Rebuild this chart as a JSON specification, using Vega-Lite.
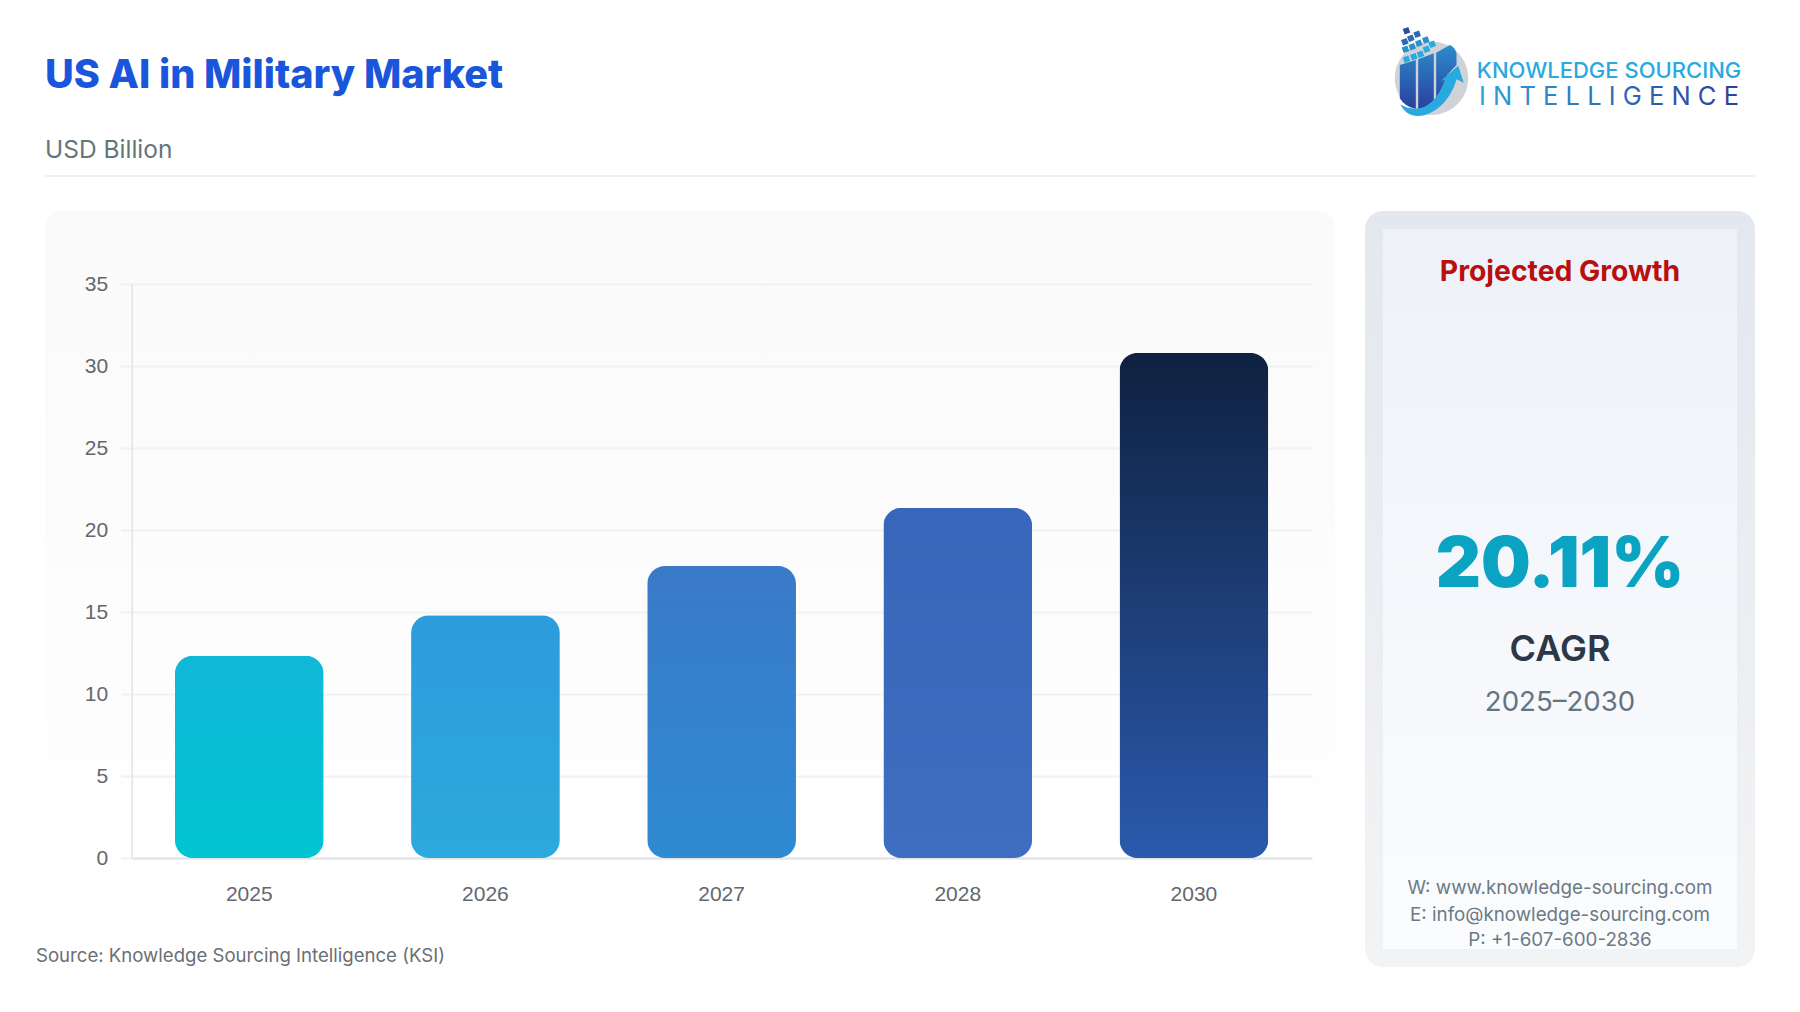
{
  "$schema": "https://vega.github.io/schema/vega-lite/v6.json",
  "background": "white",
  "padding": {"left": 36, "top": 6, "right": 0, "bottom": 0},
  "spacing": 12,
  "config": {"view": {"stroke": null}, "font": "Inter"},
  "vconcat": [
    {
      "bounds": "flush",
      "spacing": 10,
      "hconcat": [
        {
          "width": 1340,
          "height": 10,
          "data": {"values": [{}]},
          "mark": {"type": "rect", "opacity": 0},
          "title": {
            "text": "US AI in Military Market",
            "subtitle": "USD Billion",
            "orient": "bottom",
            "anchor": "start",
            "frame": "group",
            "offset": 41,
            "font": "Inter",
            "fontSize": 39.6,
            "fontWeight": 800,
            "color": "#1a56db",
            "subtitleFont": "Inter",
            "subtitleFontSize": 24.5,
            "subtitleFontWeight": 400,
            "subtitleColor": "#64757b",
            "subtitlePadding": 42
          }
        },
        {
          "width": 73,
          "height": 132,
          "data": {"values": [{}]},
          "layer": [
            {"mark": {"type": "point", "filled": true, "opacity": 1, "size": 4, "fill": "#cfd3d7", "shape": "M-36.7 6.3 A36.7 36.7 0 1 0 36.7 6.3 A36.7 36.7 0 1 0 -36.7 6.3Z"}},
            {"mark": {"type": "point", "filled": true, "opacity": 1, "size": 4, "fill": {"gradient": "linear", "x1": 0, "y1": 0, "x2": 0, "y2": 1, "stops": [{"offset": 0, "color": "#2b8ccd"}, {"offset": 1, "color": "#2a3f9d"}]}, "shape": "M-31.7 -7 L-15.7 -12 L-15.7 36.7 Q-26.7 34.7 -31.7 26.3Z M-13.3 -12.7 L2.3 -18.7 L2.3 34 Q-5 38 -13.3 37.3Z M4.7 -19.3 L18.3 -27 Q23.3 -25.3 25 -18.7 L25 -7 L15.7 3 L11.7 16.3 L4.7 31.3Z"}},
            {"mark": {"type": "point", "filled": true, "opacity": 1, "size": 4, "fill": "#29a9e0", "shape": "M-31 32.3 C-20 39.7 1.7 41.3 13.3 8 L9.3 8.7 L26.7 -6.3 L32.3 10.7 L25 7.3 C18.3 31.3 -1.7 48 -20 43 C-25 41.3 -29 37.3 -31 32.3Z"}},
            {"mark": {"type": "point", "filled": true, "opacity": 1, "size": 4, "fill": "#2a4f9f", "shape": "M-28.8 -43.1 L-23.2 -45.1 L-21.2 -39.5 L-26.8 -37.5Z"}},
            {"mark": {"type": "point", "filled": true, "opacity": 1, "size": 4, "fill": "#2d6ab5", "shape": "M-30.5 -32.1 L-24.9 -34.1 L-22.9 -28.5 L-28.5 -26.5Z M-24.5 -35.5 L-18.9 -37.5 L-16.9 -31.9 L-22.5 -29.9Z M-18.1 -39.5 L-12.5 -41.5 L-10.5 -35.9 L-16.1 -33.9Z"}},
            {"mark": {"type": "point", "filled": true, "opacity": 1, "size": 4, "fill": "#2b8fcb", "shape": "M-29.8 -24.5 L-24.2 -26.5 L-22.2 -20.9 L-27.8 -18.9Z M-23.1 -27.1 L-17.5 -29.1 L-15.5 -23.5 L-21.1 -21.5Z M-16.5 -30.5 L-10.9 -32.5 L-8.9 -26.9 L-14.5 -24.9Z M-9.5 -33.8 L-3.9 -35.8 L-1.9 -30.2 L-7.5 -28.2Z"}},
            {"mark": {"type": "point", "filled": true, "opacity": 1, "size": 4, "fill": "#29a9e0", "shape": "M-28.8 -14.5 L-23.2 -16.5 L-21.2 -10.9 L-26.8 -8.9Z M-21.5 -17.1 L-15.9 -19.1 L-13.9 -13.5 L-19.5 -11.5Z M-14.8 -19.5 L-9.2 -21.5 L-7.2 -15.9 L-12.8 -13.9Z M-8.8 -24.5 L-3.2 -26.5 L-1.2 -20.9 L-6.8 -18.9Z M-3.1 -29.5 L2.5 -31.5 L4.5 -25.9 L-1.1 -23.9Z"}}
          ]
        },
        {
          "width": 262,
          "height": 132,
          "data": {"values": [{"line": "KNOWLEDGE SOURCING"}, {"line": "I N T E L L I G E N C E"}]},
          "encoding": {"text": {"field": "line"}},
          "layer": [
            {
              "transform": [{"filter": "datum.line == 'KNOWLEDGE SOURCING'"}],
              "mark": {"type": "text", "baseline": "alphabetic", "fontSize": 22, "fontWeight": 500, "fill": "#29a9e0"},
              "encoding": {"y": {"datum": 72, "type": "quantitative", "axis": null, "scale": {"domain": [0, 132], "range": [0, 132], "nice": false}}}
            },
            {
              "transform": [{"filter": "datum.line != 'KNOWLEDGE SOURCING'"}],
              "mark": {
                "type": "text", "baseline": "alphabetic", "fontSize": 25.5, "fontWeight": 400,
                "fill": {"gradient": "linear", "x1": 0, "y1": 0, "x2": 1, "y2": 0, "stops": [{"offset": 0, "color": "#29a0d8"}, {"offset": 1, "color": "#2e3f9a"}]}
              },
              "encoding": {"y": {"datum": 99, "type": "quantitative"}}
            }
          ]
        }
      ]
    },
    {
      "width": 1710,
      "height": 24,
      "data": {"values": [{}]},
      "mark": {"type": "rule", "color": "#f0f1f2", "strokeWidth": 2},
      "encoding": {
        "y": {"datum": 1, "type": "quantitative", "axis": null, "scale": {"domain": [0, 24], "range": [0, 24], "nice": false}}
      }
    },
    {
      "bounds": "flush",
      "spacing": 30,
      "hconcat": [
        {
          "width": 1290,
          "height": 678,
          "view": {
            "cornerRadius": 16,
            "stroke": null,
            "fill": {"gradient": "linear", "x1": 0, "y1": 0, "x2": 0, "y2": 1, "stops": [{"offset": 0, "color": "#fafafa"}, {"offset": 0.3, "color": "#fbfbfb"}, {"offset": 1, "color": "#ffffff"}]}
          },
          "title": {
            "text": "Source: Knowledge Sourcing Intelligence (KSI)",
            "orient": "bottom",
            "anchor": "start",
            "frame": "group",
            "offset": 42.5,
            "dx": -9,
            "font": "Inter",
            "fontSize": 18.6,
            "fontWeight": 400,
            "color": "#6a6f75"
          },
          "data": {"values": [
            {"year": "2025", "value": 12.33},
            {"year": "2026", "value": 14.8},
            {"year": "2027", "value": 17.8},
            {"year": "2028", "value": 21.35},
            {"year": "2030", "value": 30.8}
          ]},
          "encoding": {
            "x": {
              "field": "year",
              "type": "nominal",
              "scale": {"range": [86.2, 1267], "paddingInner": 0.37, "paddingOuter": 0.185},
              "axis": {
                "title": null,
                "offset": -31,
                "labelAngle": 0,
                "labelFont": "Liberation Sans",
                "labelFontSize": 21,
                "labelColor": "#63676e",
                "labelPadding": 25,
                "ticks": false,
                "domainColor": "#e2e3e6",
                "domainWidth": 2
              }
            },
            "y": {
              "field": "value",
              "type": "quantitative",
              "scale": {"domain": [0, 35], "range": [647, 73], "nice": false},
              "axis": {
                "title": null,
                "offset": -86.7,
                "values": [0, 5, 10, 15, 20, 25, 30, 35],
                "labelFont": "Liberation Sans",
                "labelFontSize": 21,
                "labelColor": "#63676e",
                "labelPadding": 13,
                "tickSize": 11,
                "tickColor": "#f0f1f2",
                "tickWidth": 2,
                "domainColor": "#e2e3e6",
                "domainWidth": 1.5,
                "grid": true,
                "gridColor": "#f0f1f2",
                "gridWidth": 2
              }
            }
          },
          "layer": [
            {
              "transform": [{"filter": "datum.year == '2025'"}],
              "mark": {"type": "bar", "cornerRadius": 18, "fill": {"gradient": "linear", "x1": 0, "y1": 0, "x2": 0, "y2": 1, "stops": [{"offset": 0, "color": "#10b8d8"}, {"offset": 1, "color": "#00c4d2"}]}}
            },
            {
              "transform": [{"filter": "datum.year == '2026'"}],
              "mark": {"type": "bar", "cornerRadius": 18, "fill": {"gradient": "linear", "x1": 0, "y1": 0, "x2": 0, "y2": 1, "stops": [{"offset": 0, "color": "#2c9cdc"}, {"offset": 1, "color": "#2ca9de"}]}}
            },
            {
              "transform": [{"filter": "datum.year == '2027'"}],
              "mark": {"type": "bar", "cornerRadius": 18, "fill": {"gradient": "linear", "x1": 0, "y1": 0, "x2": 0, "y2": 1, "stops": [{"offset": 0, "color": "#3a7ac8"}, {"offset": 1, "color": "#2f8ad2"}]}}
            },
            {
              "transform": [{"filter": "datum.year == '2028'"}],
              "mark": {"type": "bar", "cornerRadius": 18, "fill": {"gradient": "linear", "x1": 0, "y1": 0, "x2": 0, "y2": 1, "stops": [{"offset": 0, "color": "#3766ba"}, {"offset": 1, "color": "#3f6dc0"}]}}
            },
            {
              "transform": [{"filter": "datum.year == '2030'"}],
              "mark": {"type": "bar", "cornerRadius": 18, "fill": {"gradient": "linear", "x1": 0, "y1": 0, "x2": 0, "y2": 1, "stops": [{"offset": 0, "color": "#0f2140"}, {"offset": 1, "color": "#2b5aad"}]}}
            }
          ]
        },
        {
          "width": 390,
          "height": 756,
          "view": {
            "cornerRadius": 18,
            "stroke": null,
            "fill": {"gradient": "linear", "x1": 0, "y1": 0, "x2": 0, "y2": 1, "stops": [{"offset": 0, "color": "#e3e8ef"}, {"offset": 1, "color": "#f2f3f4"}]}
          },
          "data": {"values": [
            {"line": "Projected Growth"},
            {"line": "20.11%"},
            {"line": "CAGR"},
            {"line": "2025–2030"},
            {"line": "W: www.knowledge-sourcing.com"},
            {"line": "E: info@knowledge-sourcing.com"},
            {"line": "P: +1-607-600-2836"}
          ]},
          "encoding": {
            "text": {"field": "line"}
          },
          "layer": [
            {
              "data": {"values": [{}]},
              "mark": {"type": "rect", "fill": {"gradient": "linear", "x1": 0, "y1": 0, "x2": 0, "y2": 1, "stops": [{"offset": 0, "color": "#eef2f8"}, {"offset": 1, "color": "#fbfcfe"}]}},
              "encoding": {
                "text": {"value": ""},
                "x": {"datum": 18, "type": "quantitative", "axis": null, "scale": {"domain": [0, 390], "range": [0, 390], "nice": false}},
                "x2": {"datum": 372},
                "y": {"datum": 18, "type": "quantitative", "axis": null, "scale": {"domain": [0, 756], "range": [0, 756], "nice": false}},
                "y2": {"datum": 738}
              }
            },
            {
              "transform": [{"filter": "datum.line == 'Projected Growth'"}],
              "mark": {"type": "text", "baseline": "alphabetic", "fontSize": 28.3, "fontWeight": 700, "fill": "#b80f0f"},
              "encoding": {"y": {"datum": 70, "type": "quantitative"}}
            },
            {
              "transform": [{"filter": "datum.line == '20.11%'"}],
              "mark": {"type": "text", "baseline": "alphabetic", "fontSize": 70, "fontWeight": 900, "fill": "#0aa3c2"},
              "encoding": {"y": {"datum": 376, "type": "quantitative"}}
            },
            {
              "transform": [{"filter": "datum.line == 'CAGR'"}],
              "mark": {"type": "text", "baseline": "alphabetic", "fontSize": 36, "fontWeight": 600, "fill": "#2d3748"},
              "encoding": {"y": {"datum": 450, "type": "quantitative"}}
            },
            {
              "transform": [{"filter": "datum.line == '2025–2030'"}],
              "mark": {"type": "text", "baseline": "alphabetic", "fontSize": 27.6, "fontWeight": 400, "fill": "#64757f"},
              "encoding": {"y": {"datum": 500, "type": "quantitative"}}
            },
            {
              "transform": [{"filter": "datum.line == 'W: www.knowledge-sourcing.com'"}],
              "mark": {"type": "text", "baseline": "alphabetic", "fontSize": 18.8, "fontWeight": 400, "fill": "#6b7a85"},
              "encoding": {"y": {"datum": 683, "type": "quantitative"}}
            },
            {
              "transform": [{"filter": "datum.line == 'E: info@knowledge-sourcing.com'"}],
              "mark": {"type": "text", "baseline": "alphabetic", "fontSize": 18.8, "fontWeight": 400, "fill": "#6b7a85"},
              "encoding": {"y": {"datum": 710, "type": "quantitative"}}
            },
            {
              "transform": [{"filter": "datum.line == 'P: +1-607-600-2836'"}],
              "mark": {"type": "text", "baseline": "alphabetic", "fontSize": 18.8, "fontWeight": 400, "fill": "#6b7a85"},
              "encoding": {"y": {"datum": 735, "type": "quantitative"}}
            }
          ]
        }
      ]
    }
  ]
}
